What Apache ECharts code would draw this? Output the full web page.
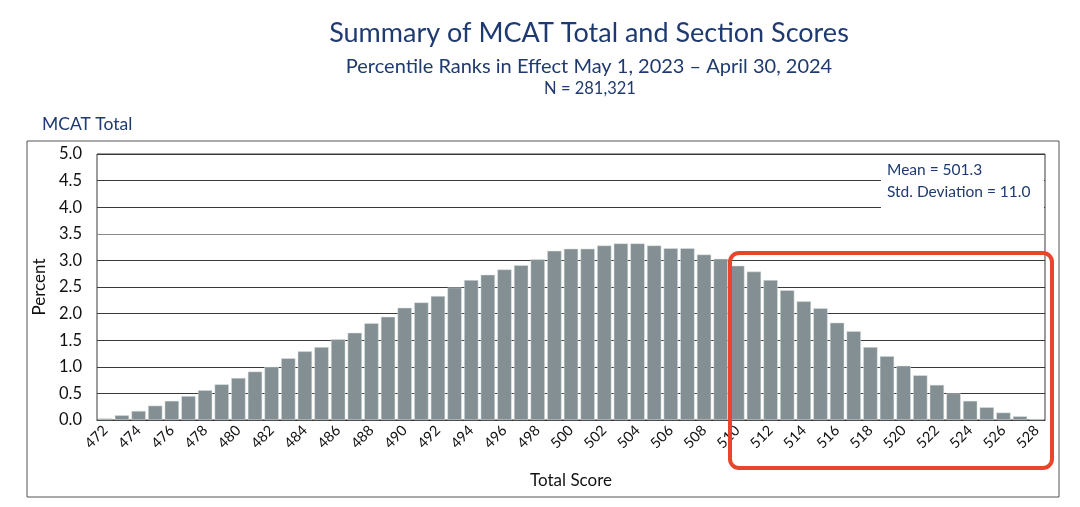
<!DOCTYPE html>
<html>
<head>
<meta charset="utf-8">
<script src="https://cdn.jsdelivr.net/npm/echarts@6/dist/echarts.min.js"></script>
<style>
html,body{margin:0;padding:0;background:#fff;}
#chart{width:1080px;height:507px;}
</style>
</head>
<body>
<div id="chart"></div>
<script>
const categories = ['472','473','474','475','476','477','478','479','480','481','482','483','484','485','486','487','488','489','490','491','492','493','494','495','496','497','498','499','500','501','502','503','504','505','506','507','508','509','510','511','512','513','514','515','516','517','518','519','520','521','522','523','524','525','526','527','528'];
const percents = [0.03,0.09,0.17,0.27,0.36,0.45,0.56,0.67,0.79,0.91,1.00,1.16,1.29,1.37,1.52,1.64,1.82,1.94,2.11,2.21,2.33,2.49,2.63,2.73,2.83,2.91,3.02,3.18,3.22,3.22,3.28,3.32,3.32,3.28,3.23,3.23,3.11,3.03,2.90,2.79,2.63,2.44,2.23,2.10,1.83,1.67,1.37,1.20,1.02,0.84,0.66,0.50,0.36,0.24,0.14,0.07,0.02];
const yTicks = [0,0.5,1,1.5,2,2.5,3,3.5,4,4.5,5];
const titleText = 'Summary of MCAT Total and Section Scores';
const subtitleText = 'Percentile Ranks in Effect May 1, 2023 \u2013 April 30, 2024';
const nText = 'N = 281,321';
const sectionText = 'MCAT Total';
const statsLines = ['Mean = 501.3', 'Std. Deviation = 11.0'];

const navy = '#1F3A70';
const font = 'Lato, "Open Sans", sans-serif';
const chart = echarts.init(document.getElementById('chart'), null, {renderer: 'canvas'});
function centered(txt, size, top, cx) {
  return {type: 'text', x: cx, y: top, style: {text: txt, fontSize: size, fill: navy, fontFamily: font, align: 'center', verticalAlign: 'middle'}};
}
chart.setOption({
  backgroundColor: '#ffffff',
  animation: false,
  textStyle: {fontFamily: font},
  grid: {left: 97, right: 35, top: 154, bottom: 87, show: true, borderColor: '#3a3a3a', borderWidth: 1},
  xAxis: {
    type: 'category',
    data: categories,
    boundaryGap: true,
    axisLine: {lineStyle: {color: '#3a3a3a', width: 1}},
    axisTick: {show: false},
    axisLabel: {interval: 1, rotate: 45, fontSize: 14.5, color: '#111', fontFamily: font, margin: 8},
    name: 'Total Score',
    nameLocation: 'middle',
    nameGap: 52,
    nameTextStyle: {fontSize: 17, color: '#111', fontFamily: font}
  },
  yAxis: {
    type: 'value',
    min: 0, max: 5, interval: 0.5,
    axisLine: {show: false},
    axisTick: {show: false},
    axisLabel: {fontSize: 16.5, color: '#111', fontFamily: font, margin: 15, formatter: v => v.toFixed(1)},
    splitLine: {lineStyle: {color: ['#3a3a3a','#3a3a3a','#3a3a3a','#3a3a3a','#3a3a3a','#3a3a3a','#3a3a3a','#8a8a8a','#3a3a3a','#3a3a3a','#3a3a3a'], width: 1}},
    name: 'Percent',
    nameLocation: 'middle',
    nameGap: 40,
    nameTextStyle: {fontSize: 17, color: '#111', fontFamily: font}
  },
  series: [{
    type: 'bar',
    data: percents,
    barCategoryGap: '14%',
    itemStyle: {color: '#838F92', borderColor: '#dfe4e5', borderWidth: 0.5},
    z: 2
  }],
  graphic: [
    centered(titleText, 27, 33, 589),
    centered(subtitleText, 20, 67, 589),
    centered(nText, 16.5, 89, 590),
    {type: 'text', left: 42, top: 115, style: {text: sectionText, fontSize: 17.5, fill: navy, fontFamily: font}},
    {type: 'rect', shape: {x: 27, y: 141, width: 1032, height: 356}, style: {fill: 'none', stroke: '#555', lineWidth: 1}, z: 0, silent: true},
    {type: 'rect', shape: {x: 881, y: 155, width: 163, height: 57}, style: {fill: '#fff'}, z: 50, silent: true},
    {type: 'text', left: 887, top: 159, z: 51, style: {text: statsLines.join('\n'), fontSize: 15.5, lineHeight: 22, fill: navy, fontFamily: font}},
    {type: 'rect', shape: {x: 730, y: 253, width: 322, height: 215, r: 9}, style: {fill: 'none', stroke: '#E8452C', lineWidth: 4}, z: 60, silent: true}
  ]
});
</script>
</body>
</html>
